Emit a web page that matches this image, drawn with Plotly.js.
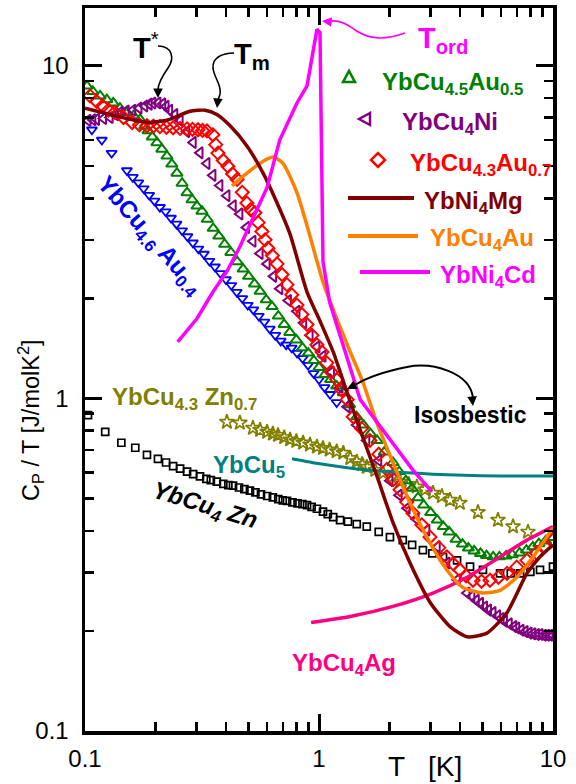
<!DOCTYPE html>
<html><head><meta charset="utf-8">
<script src="https://cdn.plot.ly/plotly-3.0.1.min.js"></script>
<style>html,body{margin:0;padding:0;background:#fff;} #chart{width:576px;height:784px;}</style>
</head><body><div id="chart"></div>
<script>
// ---------------- DATA (T in K, Cp/T in J/molK^2) ----------------
const auT05 = [0.102,0.108,0.116,0.124,0.132,0.141,0.151,0.161,0.172,0.180,0.186,0.194,0.203,0.213,0.224,0.235,0.247,0.26,0.273,0.287,0.301,0.316,0.333,0.353,0.373,0.395,0.42,0.447,0.474,0.50,0.53,0.56,0.595,0.63,0.67,0.71,0.75,0.80,0.85,0.90,0.95,1.0,1.06,1.12,1.19,1.27,1.35,1.45,1.55,1.66,1.77,1.9,2.07,2.2,2.35,2.5,2.65,2.8,3.0,3.2,3.4,3.6,3.85,4.1,4.35,4.6,4.9,5.2,5.55,5.9,6.3,6.7,7.2,7.7,8.2,8.7,9.3,10];
const auC05 = [8.70,8.38,8.13,7.92,7.74,7.47,7.25,7.09,6.91,6.59,6.39,6.12,5.88,5.62,5.36,5.07,4.76,4.44,4.16,3.96,3.79,3.66,3.46,3.25,3.08,2.91,2.75,2.58,2.45,2.33,2.21,2.10,1.98,1.89,1.77,1.67,1.58,1.50,1.42,1.37,1.30,1.24,1.18,1.14,1.09,1.04,0.958,0.881,0.832,0.784,0.748,0.690,0.642,0.603,0.566,0.537,0.503,0.478,0.454,0.431,0.412,0.397,0.377,0.365,0.355,0.348,0.342,0.337,0.334,0.334,0.336,0.339,0.343,0.35,0.358,0.366,0.373,0.382];

const auT04 = [0.107,0.118,0.130,0.151,0.160,0.169,0.178,0.188,0.198,0.209,0.221,0.233,0.246,0.26,0.274,0.289,0.305,0.322,0.34,0.359,0.379,0.40,0.422,0.445,0.47,0.496,0.524,0.553,0.584,0.616,0.65,0.686,0.724,0.764,0.806,0.851,0.898,0.948,1.0,1.056,1.115,1.19];
const auC04 = [6.43,5.99,5.47,4.85,4.63,4.46,4.28,4.09,3.93,3.76,3.65,3.49,3.35,3.20,3.07,2.94,2.82,2.72,2.59,2.49,2.38,2.28,2.19,2.09,2.0,1.91,1.85,1.77,1.70,1.62,1.55,1.49,1.45,1.42,1.37,1.32,1.26,1.19,1.14,1.08,1.03,0.973];

const niT = [0.103,0.108,0.112,0.120,0.128,0.135,0.141,0.150,0.160,0.170,0.180,0.188,0.195,0.205,0.215,0.222,0.230,0.242,0.255,0.272,0.29,0.31,0.332,0.352,0.377,0.404,0.43,0.459,0.49,0.522,0.56,0.60,0.64,0.68,0.74,0.805,0.86,0.916,0.98,1.04,1.13,1.23,1.32,1.45,1.60,1.8,2.01,2.2,2.38,2.6,2.89,3.2,3.52,3.9,4.29,4.5,4.7,4.9,5.1,5.3,5.54,5.8,6.0,6.2,6.5,6.8,7.0,7.3,7.6,7.9,8.2,8.5,8.8,9.1,9.4,9.7,10];
const niC = [6.86,6.89,6.91,6.95,7.0,7.14,7.25,7.32,7.36,7.47,7.58,7.68,7.74,7.74,7.69,7.56,7.36,7.14,6.86,6.35,5.89,5.48,5.09,4.69,4.37,4.07,3.80,3.59,3.27,2.97,2.73,2.54,2.33,2.14,1.97,1.83,1.69,1.55,1.43,1.34,1.20,1.08,0.944,0.832,0.748,0.651,0.566,0.512,0.468,0.434,0.402,0.358,0.320,0.285,0.26,0.254,0.247,0.242,0.236,0.231,0.227,0.222,0.218,0.214,0.21,0.206,0.204,0.201,0.199,0.197,0.196,0.195,0.195,0.194,0.194,0.194,0.194];

const auT07 = [0.105,0.112,0.119,0.126,0.134,0.146,0.159,0.171,0.184,0.196,0.209,0.223,0.238,0.255,0.273,0.288,0.304,0.318,0.332,0.352,0.362,0.37,0.39,0.408,0.427,0.447,0.47,0.492,0.51,0.532,0.55,0.57,0.588,0.605,0.632,0.662,0.695,0.73,0.765,0.805,0.845,0.889,0.933,0.98,1.03,1.08,1.13,1.19,1.25,1.32,1.40,1.52,1.65,1.80,1.95,2.08,2.22,2.37,2.52,2.75,2.98,3.25,3.52,3.75,4.0,4.25,4.55,4.95,5.38,5.85,6.36,7.0,7.74,8.5,9.2,10];
const auC07 = [8.13,7.83,7.58,7.37,7.25,7.0,6.76,6.65,6.61,6.59,6.57,6.54,6.52,6.49,6.47,6.45,6.43,6.40,6.38,6.21,5.80,5.47,5.20,4.99,4.74,4.56,4.17,3.87,3.70,3.62,3.38,3.18,3.0,2.83,2.69,2.54,2.36,2.20,2.05,1.91,1.79,1.67,1.55,1.45,1.38,1.28,1.20,1.14,1.06,0.992,0.881,0.813,0.748,0.680,0.612,0.571,0.532,0.488,0.452,0.417,0.383,0.356,0.334,0.318,0.305,0.293,0.284,0.282,0.284,0.29,0.298,0.311,0.326,0.343,0.359,0.375];

const znT = [0.103,0.122,0.143,0.164,0.184,0.205,0.222,0.238,0.255,0.273,0.29,0.31,0.33,0.345,0.366,0.39,0.41,0.429,0.455,0.48,0.507,0.535,0.565,0.60,0.635,0.67,0.70,0.73,0.77,0.81,0.85,0.889,0.93,0.98,1.04,1.09,1.15,1.23,1.33,1.45,1.60,1.8,2.01,2.28,2.5,2.78,3.05,3.39,3.89,4.42,5.02,5.94,6.6,7.23,8.0,8.8,10];
const znC = [0.891,0.794,0.736,0.711,0.677,0.658,0.642,0.626,0.615,0.603,0.592,0.583,0.573,0.568,0.562,0.554,0.549,0.547,0.540,0.534,0.528,0.522,0.515,0.509,0.504,0.498,0.494,0.492,0.487,0.484,0.481,0.478,0.472,0.466,0.457,0.449,0.440,0.431,0.426,0.419,0.412,0.397,0.383,0.375,0.363,0.35,0.342,0.334,0.326,0.312,0.305,0.298,0.298,0.298,0.301,0.305,0.312];

const zn07T = [0.404,0.459,0.522,0.56,0.60,0.635,0.668,0.71,0.752,0.80,0.855,0.915,0.98,1.04,1.11,1.19,1.27,1.36,1.45,1.53,1.60,1.74,1.88,2.05,2.22,2.42,2.62,2.84,3.07,3.35,3.63,4.0,4.78,5.82,6.75,7.82];
const zn07C = [0.85,0.845,0.815,0.804,0.793,0.783,0.776,0.764,0.752,0.744,0.736,0.726,0.716,0.709,0.701,0.693,0.686,0.661,0.646,0.634,0.622,0.609,0.597,0.581,0.562,0.552,0.543,0.532,0.52,0.508,0.495,0.485,0.455,0.431,0.412,0.397];

const mgT = [0.1,0.128,0.156,0.19,0.23,0.281,0.326,0.366,0.417,0.492,0.577,0.662,0.752,0.889,1.01,1.15,1.32,1.50,1.77,2.07,2.45,2.98,3.63,4.29,5.22,6.36,7.74,8.8,10];
const mgC = [7.47,7.15,6.91,6.76,6.91,7.31,7.36,7.15,6.61,5.75,4.76,3.87,3.12,2.09,1.71,1.38,1.04,0.803,0.583,0.424,0.32,0.244,0.206,0.192,0.197,0.227,0.298,0.334,0.363];

const auT = [0.425,0.492,0.56,0.636,0.701,0.805,0.916,1.04,1.19,1.36,1.54,1.77,2.07,2.45,2.89,3.52,4.12,5.02,5.94,7.01,8.22,10];
const auC = [4.36,4.76,5.10,5.32,5.10,4.16,3.07,2.24,1.74,1.38,1.12,0.842,0.642,0.485,0.383,0.305,0.27,0.26,0.265,0.29,0.334,0.409];

const cdT = [0.249,0.301,0.352,0.404,0.459,0.522,0.60,0.68,0.805,0.889,0.942,0.98,1.01,1.02,1.03,1.04,1.11,1.19,1.32,1.50,1.70,2.07,2.52,3.04];
const cdC = [1.48,1.74,2.09,2.41,2.86,3.46,4.31,6.0,7.74,8.72,10.99,12.9,12.6,7.74,3.87,2.58,1.95,1.67,1.34,0.992,0.881,0.736,0.609,0.524];

const cu5T = [0.767,1.01,1.60,3.07,5.94,10];
const cu5C = [0.659,0.636,0.609,0.592,0.585,0.585];

const agT = [0.925,1.36,2.07,3.07,4.29,5.94,7.74,10];
const agC = [0.212,0.221,0.237,0.26,0.29,0.334,0.375,0.412];

const xTicks = [0.1,1,10];
const xTickText = ['0.1','1','10'];
const yTicks = [0.1,1,10];
const yTickText = ['0.1','1','10'];

// ---------------- STYLE / LAYOUT ----------------
const FONT = 'Liberation Sans, Arial, sans-serif';
const L=85, R=553, TOP=8, BOT=731;
const fx = x => (x-L)/(R-L);
const fy = y => (BOT-y)/(BOT-TOP);
const pathPx = s => s.replace(/(-?\d+\.?\d*),(-?\d+\.?\d*)/g,(m,a,b)=>fx(+a).toFixed(4)+','+fy(+b).toFixed(4));

function mk(x,y,symbol,color,size,lw){
  return {x:x,y:y,type:'scatter',mode:'markers',cliponaxis:true,
    marker:{symbol:symbol,size:size,color:color,line:{color:color,width:lw}},hoverinfo:'skip'};
}
function ln(x,y,color,w){
  return {x:x,y:y,type:'scatter',mode:'lines',line:{color:color,width:w,shape:'spline',smoothing:0.6},hoverinfo:'skip'};
}

const traces = [
  mk(znT,znC,'square-open','#000000',7,1.7),
  mk(zn07T,zn07C,'star-open','#808000',11,1.7),
  mk(auT04,auC04,'triangle-down-open','#0000ff',9,1.8),
  mk(auT05,auC05,'triangle-up-open','#008000',10,2),
  mk(niT,niC,'triangle-left-open','#800080',10,2),
  mk(auT07,auC07,'diamond-open','#ff0000',10,2),
  ln(cu5T,cu5C,'#008080',3),
  ln(agT,agC,'#ff0080',3.5),
  ln(auT,auC,'#ff8000',3.5),
  ln(mgT,mgC,'#800000',3.5),
  {x:cdT,y:cdC,type:'scatter',mode:'lines',line:{color:'#ff00ff',width:3.5},hoverinfo:'skip'}
];

const minorVals = [];
[0.1,1].forEach(d=>{for(let k=2;k<=9;k++) minorVals.push(+(d*k).toFixed(3));});
const minorValsY = minorVals.concat([20]);

function axis(range,tv,tt,mv){
  return {type:'log',range:range,showline:true,linewidth:3.5,linecolor:'#000',mirror:'ticks',
    ticks:'inside',ticklen:17,tickwidth:3,tickcolor:'#000',tickvals:tv,ticktext:tt,
    tickfont:{family:FONT,size:24,color:'#000'},showgrid:false,zeroline:false,
    minor:{tickvals:mv,ticks:'inside',ticklen:9,tickwidth:2.5,tickcolor:'#000',showgrid:false}};
}

function txt(x,y,text,color,size,opt){
  return Object.assign({xref:'paper',yref:'paper',x:fx(x),y:fy(y),text:text,showarrow:false,
    font:{family:FONT,size:size,color:color},xanchor:'center',yanchor:'middle'},opt||{});
}
function head(x,y,ax,ay,color){
  return {xref:'paper',yref:'paper',x:fx(x),y:fy(y),text:'',showarrow:true,ax:ax,ay:ay,
    arrowhead:2,arrowsize:1.2,arrowwidth:1.6,arrowcolor:color};
}

const annotations = [
  txt(146,46,'<b>T</b><sup>*</sup>','#000',29),
  txt(252,56,'<b>T<sub>m</sub></b>','#000',29),
  txt(443,40,'<b>T<sub>ord</sub></b>','#ff00ff',29),
  // legend-like labels
  txt(380,84,'<b>YbCu<sub>4.5</sub>Au<sub>0.5</sub></b>','#008000',24,{xanchor:'left'}),
  txt(400,124,'<b>YbCu<sub>4</sub>Ni</b>','#800080',24,{xanchor:'left'}),
  txt(408,164,'<b>YbCu<sub>4.3</sub>Au<sub>0.7</sub></b>','#ff0000',24,{xanchor:'left'}),
  txt(422,202,'<b>YbNi<sub>4</sub>Mg</b>','#800000',24,{xanchor:'left'}),
  txt(428,240,'<b>YbCu<sub>4</sub>Au</b>','#ff8000',24,{xanchor:'left'}),
  txt(438,276,'<b>YbNi<sub>4</sub>Cd</b>','#ff00ff',24,{xanchor:'left'}),
  // in-plot labels
  txt(150,236,'<b>YbCu<sub>4.6</sub> Au<sub>0.4</sub></b>','#0000ff',24,{textangle:49}),
  txt(110,398,'<b>YbCu<sub>4.3</sub> Zn<sub>0.7</sub></b>','#808000',24,{xanchor:'left'}),
  txt(211,466,'<b>YbCu<sub>5</sub></b>','#008080',24,{xanchor:'left'}),
  txt(205,506,'<b><i>YbCu<sub>4</sub> Zn</i></b>','#000',24,{textangle:17}),
  txt(290,664,'<b>YbCu<sub>4</sub>Ag</b>','#ff0080',24,{xanchor:'left'}),
  txt(470,415,'<b>Isosbestic</b>','#000',23),
  // axis titles
  txt(30,420,'C<sub>P</sub> / T [J/molK<sup>2</sup>]','#000',23.5,{textangle:-90}),
  txt(425,766,'T   [K]','#000',28),
  // arrow heads
  head(158,98,0,-10,'#000'),
  head(217,108,1,-10,'#000'),
  head(322,21,10,1,'#ff00ff'),
  head(473,406,-1,-10,'#000'),
  head(347,389,10,-5,'#000')
];

const shapes = [
  {type:'path',xref:'paper',yref:'paper',path:pathPx('M158,46 C172,46 175,58 168,68 C161,78 158,84 158,90'),line:{color:'#000',width:1.6}},
  {type:'path',xref:'paper',yref:'paper',path:pathPx('M234,53 C222,53 212,58 213,68 C214,78 222,85 220,94 C219,98 218,100 217,101'),line:{color:'#000',width:1.6}},
  {type:'path',xref:'paper',yref:'paper',path:pathPx('M405,33 C385,40 370,40 355,30 C345,22 338,20 330,21'),line:{color:'#ff00ff',width:1.6}},
  {type:'path',xref:'paper',yref:'paper',path:pathPx('M473,398 C470,372 432,362 407,367 C382,372 366,378 355,385'),line:{color:'#000',width:2}},
  // legend keys
  {type:'path',xref:'paper',yref:'paper',path:pathPx('M343,82 L349,71 L355,82 Z'),line:{color:'#008000',width:2.5}},
  {type:'path',xref:'paper',yref:'paper',path:pathPx('M370,113 L359,119 L370,125 Z'),line:{color:'#800080',width:2.5}},
  {type:'path',xref:'paper',yref:'paper',path:pathPx('M378,153 L385,160 L378,167 L371,160 Z'),line:{color:'#ff0000',width:2.5}},
  {type:'line',xref:'paper',yref:'paper',x0:fx(348),x1:fx(414),y0:fy(198),y1:fy(198),line:{color:'#800000',width:4}},
  {type:'line',xref:'paper',yref:'paper',x0:fx(348),x1:fx(418),y0:fy(236),y1:fy(236),line:{color:'#ff8000',width:4}},
  {type:'line',xref:'paper',yref:'paper',x0:fx(360),x1:fx(430),y0:fy(272),y1:fy(272),line:{color:'#ff00ff',width:4}}
];

const layout = {
  width:576,height:784,paper_bgcolor:'#fff',plot_bgcolor:'#fff',showlegend:false,
  margin:{l:L,r:576-R,t:TOP,b:784-BOT,pad:0},
  font:{family:FONT,color:'#000'},
  xaxis:Object.assign(axis([-1,1],xTicks,xTickText,minorVals),{ticklabelstandoff:4}),
  yaxis:Object.assign(axis([-1,1.1744],yTicks,yTickText,minorValsY),{ticklabelstandoff:8}),
  annotations:annotations,shapes:shapes
};

Plotly.newPlot('chart',traces,layout,{staticPlot:true,displayModeBar:false});
</script></body></html>
